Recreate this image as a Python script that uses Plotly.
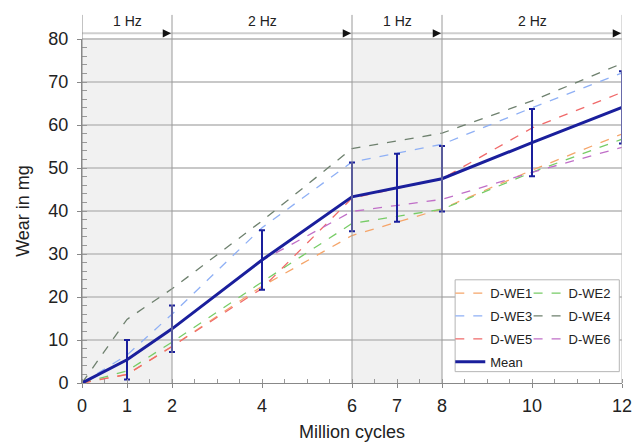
import plotly.graph_objects as go

# ---------------- data ----------------
cycles = [0, 1, 2, 4, 6, 8, 10, 12]
d_we1 = [0, 2.0, 8.5, 22.5, 34.3, 40.5, 49.5, 57.9]
d_we2 = [0, 2.8, 9.5, 23.5, 37.1, 40.4, 49.0, 56.7]
d_we3 = [0, 6.5, 16.0, 36.1, 51.4, 55.5, 64.0, 72.1]
d_we4 = [0, 14.8, 21.9, 37.7, 54.5, 58.1, 65.6, 74.3]
d_we5 = [0, 2.0, 8.5, 22.0, 43.0, 47.5, 59.3, 67.6]
d_we6 = [0, 5.5, 12.5, 28.5, 39.9, 42.7, 49.0, 54.8]

mean_cycles = [0, 1, 2, 4, 6, 7, 8, 10, 12]
mean_vals = [0, 5.4, 12.6, 28.6, 43.3, 45.4, 47.5, 55.9, 64.1]
mean_err = [0, 4.6, 5.4, 6.9, 8.0, 7.9, 7.6, 7.8, 8.4]

freq_bounds = [0, 2, 6, 8, 12]
freq_labels = ["1 Hz", "2 Hz", "1 Hz", "2 Hz"]
shaded = [True, False, True, False]

x_ticks = [0, 1, 2, 4, 6, 7, 8, 10, 12]

series = [
    ("D-WE1", d_we1, "#f5a56a", "legend"),
    ("D-WE2", d_we2, "#77cc66", "legend2"),
    ("D-WE3", d_we3, "#8fb0f5", "legend"),
    ("D-WE4", d_we4, "#6e806e", "legend2"),
    ("D-WE5", d_we5, "#f06a6a", "legend"),
    ("D-WE6", d_we6, "#c06fc8", "legend2"),
]

FONT = "Liberation Sans, Arial, sans-serif"
TXT = "#222222"
MEAN_C = "#1a1f9c"

fig = go.Figure()

for name, vals, col, lg in series:
    fig.add_trace(go.Scatter(
        x=cycles, y=vals, mode="lines", name=name,
        line=dict(color=col, width=1.3, dash="dash"),
        legend=lg, legendgroup=name,
    ))

fig.add_trace(go.Scatter(
    x=mean_cycles, y=mean_vals, mode="lines", name="Mean",
    line=dict(color=MEAN_C, width=3),
    error_y=dict(type="data", array=mean_err, visible=True,
                 color=MEAN_C, thickness=2, width=3),
    legend="legend", legendgroup="Mean",
))

shapes = []
annotations = []
TOP = 1.07
ARROW_Y = 1.0166
for i, lab in enumerate(freq_labels):
    a, b = freq_bounds[i], freq_bounds[i + 1]
    if shaded[i]:
        shapes.append(dict(type="rect", xref="x", yref="paper", x0=a, x1=b,
                           y0=0, y1=1, fillcolor="#f1f1f1", line_width=0,
                           layer="below"))
    annotations.append(dict(x=(a + b) / 2, y=1.053, xref="x", yref="paper",
                            xanchor="center", yanchor="middle",
                            text=lab, showarrow=False,
                            font=dict(size=14, color=TXT, family=FONT)))
    annotations.append(dict(x=b, y=ARROW_Y, xref="x", yref="paper", text="",
                            showarrow=True, ax=-5, ay=0, arrowhead=2,
                            arrowsize=1.1, arrowwidth=1.5, arrowcolor="#111111",
                            standoff=1))

# gray band line
shapes.append(dict(type="line", xref="x", yref="paper",
                   x0=freq_bounds[0], x1=freq_bounds[-1], y0=ARROW_Y, y1=ARROW_Y,
                   line=dict(color="#cfcfcf", width=2), layer="below"))
# top border line
shapes.append(dict(type="line", xref="paper", yref="paper", x0=0, x1=1,
                   y0=1, y1=1, line=dict(color="#c4c4c4", width=2)))
# vertical boundaries
for b in freq_bounds:
    col = "#9a9a9a"
    if b == freq_bounds[0]:
        col = "#888888"
    if b == freq_bounds[-1]:
        col = "#b8b8b8"
    shapes.append(dict(type="line", xref="x", yref="paper", x0=b, x1=b,
                       y0=0, y1=TOP, line=dict(color=col, width=1)))

# legend border
shapes.append(dict(type="rect", xref="paper", yref="paper", x0=0.691, x1=0.995,
                   y0=0.033, y1=0.300, line=dict(color="#b5b5b5", width=1),
                   fillcolor="white", layer="above", opacity=1))

legend_common = dict(bgcolor="rgba(0,0,0,0)", borderwidth=0,
                     font=dict(size=13, color=TXT, family=FONT),
                     traceorder="grouped", tracegroupgap=3,
                     yanchor="top", xanchor="left", itemwidth=30)

fig.update_layout(
    width=642, height=442,
    margin=dict(l=82, r=20, t=39, b=59, autoexpand=False),
    paper_bgcolor="white", plot_bgcolor="white",
    font=dict(family=FONT, color=TXT, size=18),
    showlegend=True,
    legend=dict(x=0.682, y=0.305, **legend_common),
    legend2=dict(x=0.827, y=0.305, **legend_common),
    shapes=shapes, annotations=annotations,
    xaxis=dict(range=[0, 12], tickvals=x_ticks, showgrid=False, zeroline=False,
               showline=True, linecolor="#888888", linewidth=1,
               automargin=False,
               ticks="outside", ticklen=4, tickcolor="#888888",
               ticklabelstandoff=2,
               tickfont=dict(size=18, color=TXT),
               minor=dict(dtick=0.5, tick0=0, ticks="inside", ticklen=4,
                          tickcolor="#999999", showgrid=False),
               title=dict(text="Million cycles", standoff=10,
                          font=dict(size=18, color=TXT))),
    yaxis=dict(range=[0, 80], dtick=10, showgrid=True, gridcolor="#c8c8c8",
               gridwidth=1.5, zeroline=False, showline=True,
               linecolor="#888888", linewidth=1,
               automargin=False,
               ticks="outside", ticklen=4, tickcolor="#888888",
               ticklabelstandoff=5,
               tickfont=dict(size=18, color=TXT),
               minor=dict(dtick=2, ticks="inside", ticklen=5,
                          tickcolor="#999999", showgrid=False),
               title=dict(text="Wear in mg", standoff=14,
                          font=dict(size=18, color=TXT))),
)

fig.write_html("out.html", config={"displayModeBar": False},
               post_script="document.body.style.margin='0';document.body.style.overflow='hidden';")
